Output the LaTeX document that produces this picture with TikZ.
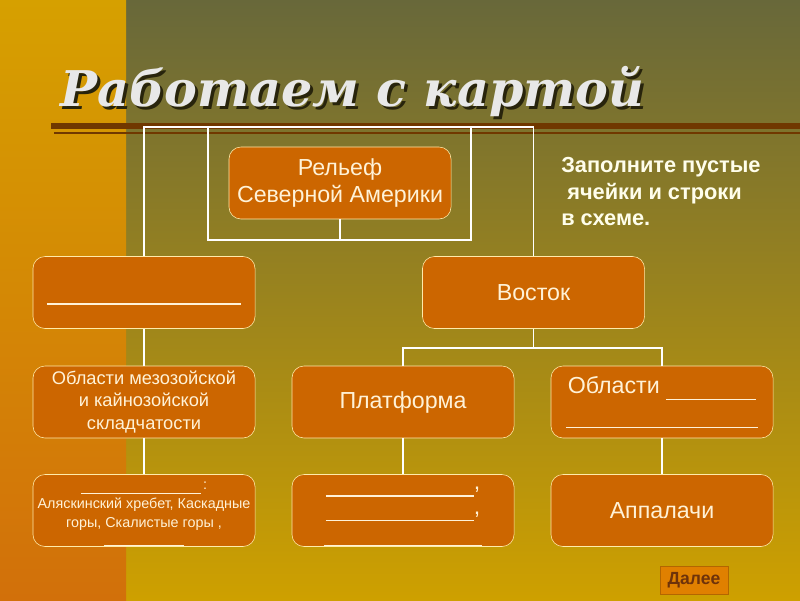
\documentclass[tikz,border=0pt]{standalone}
\usepackage{fontspec}
\setmainfont{Liberation Sans}
\newfontfamily\titlefont{DejaVu Serif}
\usetikzlibrary{positioning,calc}
\definecolor{olivetop}{RGB}{104,104,58}
\definecolor{goldlow}{RGB}{206,160,0}
\definecolor{striptop}{RGB}{214,160,0}
\definecolor{striplow}{RGB}{210,112,10}
\definecolor{cellfill}{RGB}{204,102,0}
\definecolor{cellline}{RGB}{255,235,170}
\definecolor{celltext}{RGB}{255,242,215}
\definecolor{rulebrown}{RGB}{112,56,0}
\definecolor{titleshade}{RGB}{40,36,12}
\definecolor{btnfill}{RGB}{224,128,0}
\definecolor{btntext}{RGB}{110,50,10}
% placeholder line and shifted block
\newcommand\blank[2][-5pt]{\rule[#1]{#2}{0.8pt}}
\newcommand\lowered[2]{\raisebox{-#1}[0pt][0pt]{\begin{tabular}{@{}c@{}}#2\end{tabular}}}
\tikzset{
  cell/.style={draw=cellline,fill=cellfill,rounded corners=0.3cm,thin,
    minimum width=5.55cm,minimum height=1.8cm,inner sep=2pt,align=center,
    text=celltext,font=\fontsize{16.5}{19.5}\selectfont},
  small/.style={font=\fontsize{13}{16}\selectfont},
  tiny/.style={font=\fontsize{10.2}{13.3}\selectfont},
  wire/.style={draw=white,line width=1.1pt},
  title/.style={font=\titlefont\bfseries\itshape\fontsize{35}{40}\selectfont,
    text=white!91!black,inner sep=0pt},
  note/.style={font=\bfseries\fontsize{15.5}{19}\selectfont,
    text=white!92!yellow,align=left,inner sep=0pt},
}

\begin{document}
\begin{tikzpicture}[x=0.025cm,y=-0.025cm]
\useasboundingbox (0,0) rectangle (800,600);
% background
\shade[top color=olivetop,bottom color=goldlow] (0,0) rectangle (800,600);
\shade[top color=striptop,bottom color=striplow] (0,0) rectangle (126,600);
\fill[rulebrown] (51,122.5) rectangle (800,128.5);
\fill[rulebrown] (54,132) rectangle (800,134);

% title
\node[title,text=titleshade,anchor=base west] (titleshadow) at (63,109) {Работаем с картой};
\node[title,anchor=base west] (title) at (60,106) {Работаем с картой};

\node[note,anchor=north west] (hint) at (561,157)
  {Заполните пустые\\\hspace{0.15cm}ячейки и строки\\в схеме.};

% boxes
\node[cell] (top) at (340,183) {Рельеф\\Северной Америки};
\node[cell] (west) at (144,292.5) {\raisebox{-0.3cm}[0pt][0pt]{\rule{4.85cm}{0.8pt}}};
\node[cell] (east) at (533.5,292.5) {Восток};
\node[cell,small] (fold) at (144,402) {Области мезозойской\\и кайнозойской\\складчатости};
\node[cell] (plat) at (403,402) {Платформа};
\node[cell] (area) at (662,402) {Области \blank{2.25cm}\\\blank{4.8cm}};
\node[cell,tiny] (ranges) at (144,510.5)
  {\lowered{5pt}{\blank[-3pt]{3cm}\,:\\Аляскинский хребет, Каскадные\\горы, Скалистые горы ,\\\blank[0pt]{2cm}}};
\node[cell] (plain) at (403,510.5)
  {\lowered{3pt}{\blank{3.7cm},\\[-2pt]\blank{3.7cm},\\[-2pt]\blank{3.95cm}}};
\node[cell] (appal) at (662,510.5) {Аппалачи};

% connectors
\coordinate (frame) at (340,127);
\coordinate (hubL) at (208,240);
\coordinate (hubR) at (471,240);
\coordinate (fork) at (533.5,348);
\draw[wire] (west.north) |- (frame) -| (east.north);
\draw[wire] (hubL |- frame) -- (hubL) -- (hubR) -- (hubR |- frame);
\draw[wire] (top.south) -- (top.south |- hubL);
\draw[wire] (west) -- (fold);
\draw[wire] (fold) -- (ranges);
\draw[wire] (east.south) -- (fork);
\draw[wire] (plat.north) |- (fork) -| (area.north);
\draw[wire] (plat) -- (plain);
\draw[wire] (area) -- (appal);

% button
\node[fill=btnfill,draw=btnfill!80!black,thin,minimum width=1.7cm,minimum height=0.7cm,
  text=btntext,font=\bfseries\fontsize{12.5}{14}\selectfont] (next) at (694,580) {Далее};
\end{tikzpicture}
\end{document}
